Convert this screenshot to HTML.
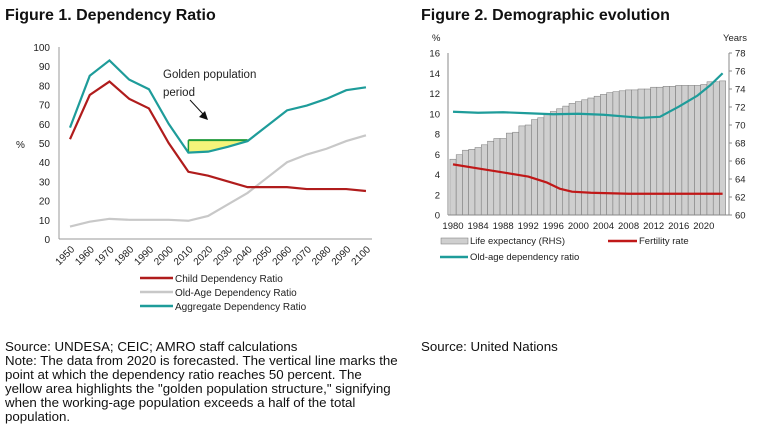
<!DOCTYPE html><html><head><style>
body{margin:0;width:768px;height:440px;background:#fff;overflow:hidden;font-family:"Liberation Sans",sans-serif}
.t{position:absolute;font-weight:bold;font-size:16px;color:#111}
.s{position:absolute;font-size:13.3px;line-height:14px;color:#111;white-space:nowrap}
</style></head><body>
<div class="t" style="left:5px;top:7px">Figure 1. Dependency Ratio</div>
<div class="t" style="left:421px;top:7px">Figure 2. Demographic evolution</div>
<svg width="768" height="440" style="position:absolute;left:0;top:0" font-family="Liberation Sans,sans-serif">
<g id="c1"></g><g id="c2"></g>
</svg>
<div class="s" style="left:5px;top:340px">Source: UNDESA; CEIC; AMRO staff calculations<br>Note: The data from 2020 is forecasted. The vertical line marks the<br>point at which the dependency ratio reaches 50 percent. The<br>yellow area highlights the "golden population structure," signifying<br>when the working-age population exceeds a half of the total<br>population.</div>
<div class="s" style="left:421px;top:340px">Source: United Nations</div>
<script>
const NS="http://www.w3.org/2000/svg";
function el(p,t,a,txt){const e=document.createElementNS(NS,t);for(const k in a)e.setAttribute(k,a[k]);if(txt!==undefined)e.textContent=txt;p.appendChild(e);return e;}
let g=document.getElementById('c1');
const X=i=>70+i*19.73, Y=v=>239-v*1.92;
for(let v=0;v<=100;v+=10)el(g,'text',{x:50,y:Y(v)+4,'font-size':10,'text-anchor':'end',fill:'#222'},v);
el(g,'text',{x:16,y:148,'font-size':10,fill:'#222'},'%');
el(g,'line',{x1:59,y1:47,x2:59,y2:239,stroke:'#999'});
el(g,'line',{x1:59,y1:239,x2:372,y2:239,stroke:'#999'});
for(let i=0;i<16;i++){const yr=1950+i*10;el(g,'text',{x:X(i)+5,y:250,'font-size':10,'text-anchor':'end',fill:'#222',transform:`rotate(-45 ${X(i)+5} 250)`},yr);}
const agg=[58,85,93,83,78,60,45,45.5,48,51,59,67,69.5,73,77.5,79];
const ch=[52,75,82,73,68,50,35,33,30,27,27,27,26,26,26,25];
const od=[6.5,9,10.5,10,10,10,9.5,12,18,24,32,40,44,47,51,54];
el(g,'polygon',{points:`${X(6)},${Y(51.5)} ${X(9)},${Y(51.5)} ${X(8)},${Y(48)} ${X(7)},${Y(45.5)} ${X(6)},${Y(45)}`,fill:'#f4f47a'});
el(g,'line',{x1:X(6),y1:Y(51.5),x2:X(9),y2:Y(51.5),stroke:'#1f9a3a','stroke-width':2});
el(g,'line',{x1:X(6),y1:Y(51.5),x2:X(6),y2:Y(45),stroke:'#1f9a3a','stroke-width':1.5});
const pl=(d,c)=>el(g,'polyline',{points:d.map((v,i)=>X(i)+','+Y(v)).join(' '),fill:'none',stroke:c,'stroke-width':2.2});
pl(od,'#c8c8c8');pl(ch,'#b01c1c');pl(agg,'#1e9c9a');
el(g,'text',{x:163,y:78,'font-size':11.5,fill:'#222'},'Golden population');
el(g,'text',{x:163,y:96,'font-size':11.5,fill:'#222'},'period');
el(g,'line',{x1:190,y1:100,x2:203,y2:114,stroke:'#111','stroke-width':1});
el(g,'polygon',{points:'199,117 208,120 205,111',fill:'#111'});
[['#b01c1c','Child Dependency Ratio'],['#c8c8c8','Old-Age Dependency Ratio'],['#1e9c9a','Aggregate Dependency Ratio']].forEach((l,i)=>{const y=278+i*14;el(g,'line',{x1:140,y1:y,x2:173,y2:y,stroke:l[0],'stroke-width':2.5});el(g,'text',{x:175,y:y+4,'font-size':10,fill:'#222'},l[1]);});
g=document.getElementById('c2');
const L=448,R=729,B=215,T=53;const YL=v=>B-v*(B-T)/16, YR=v=>B-(v-60)*(B-T)/18;
const XB=i=>453+i*6.27;
const le=[66.2,66.7,67.2,67.3,67.5,67.8,68.2,68.5,68.5,69.1,69.2,69.9,70.0,70.6,70.8,71.3,71.5,71.8,72.1,72.4,72.6,72.8,73.0,73.2,73.4,73.6,73.7,73.8,73.9,73.9,74.0,74.0,74.2,74.2,74.3,74.3,74.4,74.4,74.4,74.4,74.5,74.8,74.8,74.9];
le.forEach((v,i)=>el(g,'rect',{x:XB(i)-3.1,y:YR(v),width:6.2,height:B-YR(v),fill:'#cfcfcf',stroke:'#777','stroke-width':0.5}));
el(g,'line',{x1:L,y1:T,x2:L,y2:B,stroke:'#888'});el(g,'line',{x1:R,y1:T,x2:R,y2:B,stroke:'#888'});
el(g,'line',{x1:L,y1:B,x2:R,y2:B,stroke:'#888'});
for(let v=0;v<=16;v+=2)el(g,'text',{x:440,y:YL(v)+3.5,'font-size':9.5,'text-anchor':'end',fill:'#222'},v);
for(let v=60;v<=78;v+=2){el(g,'text',{x:735,y:YR(v)+3.5,'font-size':9.5,fill:'#222'},v);el(g,'line',{x1:R,y1:YR(v),x2:R+3,y2:YR(v),stroke:'#888'});}
el(g,'text',{x:432,y:41,'font-size':9.5,fill:'#222'},'%');
el(g,'text',{x:723,y:41,'font-size':9.5,fill:'#222'},'Years');
for(let y=1980;y<=2020;y+=4)el(g,'text',{x:XB(y-1980),y:229,'font-size':9.5,'text-anchor':'middle',fill:'#222'},y);
const yrs=[[0,10.2],[4,10.1],[8,10.15],[12,10.05],[16,9.95],[20,10],[24,9.9],[28,9.7],[30,9.6],[33,9.7],[36,10.7],[39,11.8],[41,12.8],[43,14]];
const fr=[[0,5],[4,4.6],[8,4.2],[12,3.8],[15,3.2],[17,2.6],[19,2.3],[22,2.2],[28,2.1],[43,2.1]];
const lp=(d,c)=>el(g,'polyline',{points:d.map(p=>XB(p[0])+','+YL(p[1])).join(' '),fill:'none',stroke:c,'stroke-width':2.2,'stroke-linejoin':'round'});
lp(fr,'#c01818');lp(yrs,'#1e9c9a');
el(g,'rect',{x:441,y:238,width:27,height:6,fill:'#cfcfcf',stroke:'#777','stroke-width':0.5});
el(g,'text',{x:470,y:244,'font-size':9.5,fill:'#222'},'Life expectancy (RHS)');
el(g,'line',{x1:608,y1:241,x2:637,y2:241,stroke:'#c01818','stroke-width':2.5});
el(g,'text',{x:639,y:244,'font-size':9.5,fill:'#222'},'Fertility rate');
el(g,'line',{x1:440,y1:257,x2:468,y2:257,stroke:'#1e9c9a','stroke-width':2.5});
el(g,'text',{x:470,y:260,'font-size':9.5,fill:'#222'},'Old-age dependency ratio');
</script>
</body></html>
